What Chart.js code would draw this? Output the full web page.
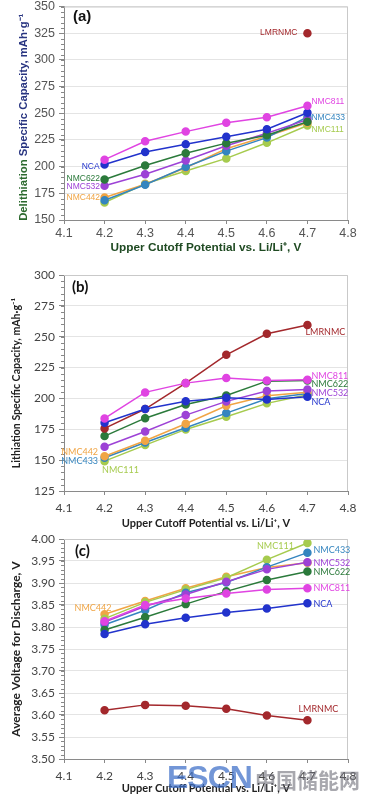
<!DOCTYPE html>
<html><head><meta charset="utf-8">
<script src="https://cdn.jsdelivr.net/npm/chart.js@4/dist/chart.umd.min.js"></script>
<style>
html,body{margin:0;padding:0;background:#fff;width:372px;height:800px;overflow:hidden;position:relative}
canvas{position:absolute;left:0}
#wm{position:absolute;left:167px;top:759px;white-space:nowrap;pointer-events:none;line-height:1}
#wm .e{font:bold 32px "Liberation Sans",Arial,sans-serif;color:rgba(60,110,200,0.72);letter-spacing:-1px}
#wm .c{font:bold 21px "Noto Sans CJK SC",sans-serif;color:rgba(110,110,120,0.6);margin-left:3px}
</style></head><body>
<canvas id="ca" width="372" height="265" style="top:-5px"></canvas>
<canvas id="cb" width="372" height="272" style="top:262px"></canvas>
<canvas id="cc" width="372" height="274" style="top:526px"></canvas>
<div id="wm"><span class="e">ESCN</span><span class="c">中国储能网</span></div>
<script>
// ---------- DATA ----------
const cutoffs = [4.2, 4.3, 4.4, 4.5, 4.6, 4.7];
const materials = ['NMC811', 'NCA', 'NMC622', 'NMC532', 'NMC442', 'NMC433', 'NMC111', 'LMRNMC'];

// (a) Delithiation specific capacity, mAh/g
const delithNMC811 = [206.5, 223.8, 232.8, 241.2, 246.2, 257.0];
const delithNCA    = [202.0, 213.7, 221.0, 228.0, 235.0, 250.5];
const delithNMC622 = [188.0, 201.0, 212.6, 222.0, 229.4, 242.0];
const delithNMC532 = [182.0, 192.8, 205.8, 219.5, 231.2, 244.0];
const delithNMC442 = [171.0, 183.5, 199.0, 216.7, 228.5, 241.0];
const delithNMC433 = [168.5, 183.0, 199.6, 214.5, 227.2, 246.5];
const delithNMC111 = [166.4, 184.0, 195.9, 207.7, 222.3, 238.5];
const delithLMRNMC = [null, null, null, null, null, 325.0];

// (b) Lithiation specific capacity, mAh/g
const lithNMC811 = [183.8, 204.9, 212.4, 216.5, 214.6, 215.1];
const lithNCA    = [180.3, 191.4, 197.8, 200.5, 199.2, 201.4];
const lithNMC622 = [169.5, 184.0, 195.1, 202.4, 214.0, 214.6];
const lithNMC532 = [160.8, 173.2, 186.5, 197.6, 206.0, 207.3];
const lithNMC442 = [153.2, 165.7, 179.5, 194.0, 202.2, 205.1];
const lithNMC433 = [152.0, 164.3, 176.2, 188.1, 199.7, 204.0];
const lithNMC111 = [149.2, 162.2, 174.9, 185.1, 196.0, 203.0];
const lithLMRNMC = [175.7, 191.4, 212.4, 235.3, 252.4, 259.5];

// (c) Average voltage for discharge, V
const voltNMC811 = [3.813, 3.850, 3.865, 3.876, 3.885, 3.888];
const voltNCA    = [3.784, 3.806, 3.821, 3.833, 3.842, 3.854];
const voltNMC622 = [3.793, 3.822, 3.852, 3.881, 3.907, 3.926];
const voltNMC532 = [3.811, 3.847, 3.874, 3.903, 3.931, 3.947];
const voltNMC442 = [3.829, 3.859, 3.888, 3.914, 3.935, 3.946];
const voltNMC433 = [3.805, 3.838, 3.878, 3.901, 3.936, 3.969];
const voltNMC111 = [3.819, 3.856, 3.885, 3.912, 3.953, 3.991];
const voltLMRNMC = [3.611, 3.623, 3.621, 3.614, 3.599, 3.588];

const xTickMin = 4.1, xTickMax = 4.8, xTickStep = 0.1;
const yTicksA = {min: 150, max: 350, step: 25};
const yTicksB = {min: 125, max: 300, step: 25};
const yTicksC = {min: 3.50, max: 4.00, step: 0.05};

// ---------- STYLE ----------
const colors = {
  NMC811: '#e044e2', NCA: '#2233cc', NMC622: '#2b7a3b', NMC532: '#9d42d6',
  NMC442: '#f0a545', NMC433: '#3485bf', NMC111: '#a6cb4e', LMRNMC: '#a3282c'
};

function toPoints(vals) { return cutoffs.map((c, i) => ({x: c, y: vals[i]})); }

const panelPlugin = {
  id: 'panel',
  afterDraw(chart, args, o) {
    const {ctx, chartArea: {left, right, top, bottom}, scales: {x, y}} = chart;
    ctx.save();
    ctx.lineWidth = 1;
    ctx.strokeStyle = o.frameColor;
    ctx.beginPath();
    ctx.moveTo(left, top + 0.5); ctx.lineTo(right - 0.5, top + 0.5); ctx.lineTo(right - 0.5, bottom);
    ctx.stroke();
    // minor ticks on y
    ctx.strokeStyle = o.tickColor;
    const n = Math.round((y.max - y.min) / o.minorStep);
    for (let i = 0; i <= n; i++) {
      const py = Math.round(y.getPixelForValue(y.min + i * o.minorStep)) + 0.5;
      ctx.beginPath(); ctx.moveTo(left - 3, py); ctx.lineTo(left, py); ctx.stroke();
    }
    // panel letter
    ctx.font = o.letterFont; ctx.fillStyle = '#111'; ctx.textAlign = 'left'; ctx.textBaseline = 'middle';
    ctx.fillText(o.letter, left + o.letterDx, top + o.letterDy);
    // series labels
    ctx.font = o.labelFont;
    o.labels.forEach(l => {
      const ds = chart.data.datasets.find(d => d.label === l.name);
      const p = ds.data[l.idx];
      ctx.fillStyle = ds.borderColor; ctx.textAlign = l.align;
      ctx.fillText(l.name, x.getPixelForValue(p.x) + l.dx, y.getPixelForValue(p.y) + l.dy);
    });
    // two-colour y title
    if (o.yTitleParts) {
      ctx.translate(o.yTitleX, (top + bottom) / 2 + (o.yTitleShift || 0));
      ctx.rotate(-Math.PI / 2);
      ctx.font = o.yTitleFont; ctx.textAlign = 'left';
      const total = o.yTitleParts.reduce((s, p) => s + ctx.measureText(p.text).width, 0);
      let cx = -total / 2;
      o.yTitleParts.forEach(p => { ctx.fillStyle = p.color; ctx.fillText(p.text, cx, 0); cx += ctx.measureText(p.text).width; });
    }
    ctx.restore();
  }
};

function makeChart(id, cfg) {
  const datasets = cfg.series.map(s => ({
    label: s.name, data: toPoints(s.values), borderColor: colors[s.name], backgroundColor: colors[s.name],
    pointBackgroundColor: colors[s.name], pointBorderColor: colors[s.name],
    borderWidth: 1.5, pointRadius: 3.5, pointHoverRadius: 3.5, tension: 0, spanGaps: false
  }));
  return new Chart(document.getElementById(id), {
    type: 'line',
    data: {datasets},
    options: {
      responsive: false, animation: false, devicePixelRatio: 1,
      layout: {padding: {top: cfg.padTop, right: 24, left: 0, bottom: 0}},
      plugins: {legend: {display: false}, tooltip: {enabled: false}, panel: cfg.panel},
      scales: {
        x: {
          type: 'linear', min: xTickMin, max: xTickMax,
          afterFit: s => { s.height = cfg.xHeight; },
          ticks: {stepSize: xTickStep, color: cfg.tickColor, font: cfg.tickFont, padding: cfg.xTickPad, maxRotation: 0,
                  callback: v => Number(v).toFixed(1)},
          grid: {drawOnChartArea: false, drawTicks: true, tickLength: 4, tickColor: '#888'},
          border: {color: '#8a8a8a', width: 1},
          title: {display: true, text: 'Upper Cutoff Potential vs. Li/Li⁺, V', color: cfg.xTitleColor, font: cfg.titleFont,
                  padding: {top: 0, bottom: cfg.xTitlePadB}}
        },
        y: {
          min: cfg.yTicks.min, max: cfg.yTicks.max,
          afterFit: s => { s.width = 64; },
          ticks: {stepSize: cfg.yTicks.step, color: cfg.tickColor, font: cfg.tickFont, padding: 4,
                  callback: v => Number(v).toFixed(cfg.yDec)},
          grid: {color: '#e4e4e4', tickColor: '#888', tickLength: 5},
          border: {color: '#8a8a8a', width: 1},
          title: cfg.yTitle
        }
      }
    },
    plugins: [panelPlugin]
  });
}

const fontA = 'Liberation Sans';
const fontBC = 'Lato';

makeChart('ca', {
  padTop: 10, xHeight: 40, xTickPad: 2, xTitlePadB: 4.8, yTicks: yTicksA, yDec: 0,
  tickColor: '#555', tickFont: {family: fontA, size: 12.5},
  titleFont: {family: fontA, size: 11.8, weight: 'bold'}, xTitleColor: '#1f4a22',
  yTitle: {display: false},
  series: [
    {name: 'NMC811', values: delithNMC811}, {name: 'NCA', values: delithNCA},
    {name: 'NMC622', values: delithNMC622}, {name: 'NMC532', values: delithNMC532},
    {name: 'NMC433', values: delithNMC433}, {name: 'NMC442', values: delithNMC442},
    {name: 'NMC111', values: delithNMC111}, {name: 'LMRNMC', values: delithLMRNMC}
  ],
  panel: {
    frameColor: '#c9c9c9', tickColor: '#888', minorStep: 5,
    letter: '(a)', letterFont: 'bold 15px "Liberation Sans"', letterDx: 9, letterDy: 10,
    labelFont: '8.5px "Liberation Sans"',
    yTitleParts: [{text: 'Delithiation ', color: '#2c6a2e'}, {text: 'Specific Capacity, mAh·g⁻¹', color: '#283480'}],
    yTitleFont: 'bold 11.3px "Liberation Sans"', yTitleX: 24, yTitleShift: 4,
    labels: [
      {name: 'LMRNMC', idx: 5, dx: -10, dy: -1, align: 'right'},
      {name: 'NMC811', idx: 5, dx: 4, dy: -4, align: 'left'},
      {name: 'NMC433', idx: 5, dx: 4, dy: 1, align: 'left'},
      {name: 'NMC111', idx: 5, dx: 4, dy: 4, align: 'left'},
      {name: 'NCA', idx: 0, dx: -5, dy: 2, align: 'right'},
      {name: 'NMC622', idx: 0, dx: -4.5, dy: -1, align: 'right'},
      {name: 'NMC532', idx: 0, dx: -4.5, dy: 0.5, align: 'right'},
      {name: 'NMC442', idx: 0, dx: -4.5, dy: 0, align: 'right'}
    ]
  }
});

makeChart('cb', {
  padTop: 13, xHeight: 43, xTickPad: 6, xTitlePadB: 4.4, yTicks: yTicksB, yDec: 0,
  tickColor: '#444', tickFont: {family: fontBC, size: 12},
  titleFont: {family: fontBC, size: 11, weight: 'bold'}, xTitleColor: '#222',
  yTitle: {display: true, text: 'Lithiation Specific Capacity, mAh·g⁻¹', color: '#222',
           font: {family: fontBC, size: 10.6, weight: 'bold'}, padding: {top: 10.6, bottom: 0}},
  series: [
    {name: 'NMC811', values: lithNMC811}, {name: 'NCA', values: lithNCA},
    {name: 'LMRNMC', values: lithLMRNMC}, {name: 'NMC622', values: lithNMC622},
    {name: 'NMC532', values: lithNMC532}, {name: 'NMC442', values: lithNMC442},
    {name: 'NMC433', values: lithNMC433}, {name: 'NMC111', values: lithNMC111}
  ],
  panel: {
    frameColor: '#c9c9c9', tickColor: '#888', minorStep: 5,
    letter: '(b)', letterFont: 'bold 15px Lato', letterDx: 8, letterDy: 12,
    labelFont: '9px Lato',
    labels: [
      {name: 'LMRNMC', idx: 5, dx: -2, dy: 7, align: 'left'},
      {name: 'NMC811', idx: 5, dx: 4, dy: -4, align: 'left'},
      {name: 'NMC622', idx: 5, dx: 4, dy: 3.3, align: 'left'},
      {name: 'NMC532', idx: 5, dx: 4, dy: 3.3, align: 'left'},
      {name: 'NCA', idx: 5, dx: 4, dy: 5, align: 'left'},
      {name: 'NMC442', idx: 0, dx: -6.5, dy: -4.5, align: 'right'},
      {name: 'NMC433', idx: 0, dx: -6.5, dy: 3.3, align: 'right'},
      {name: 'NMC111', idx: 0, dx: -2.5, dy: 8.6, align: 'left'}
    ]
  }
});

makeChart('cc', {
  padTop: 13, xHeight: 41, xTickPad: 6, xTitlePadB: 5.4, yTicks: yTicksC, yDec: 2,
  tickColor: '#444', tickFont: {family: fontBC, size: 12},
  titleFont: {family: fontBC, size: 11, weight: 'bold'}, xTitleColor: '#222',
  yTitle: {display: true, text: 'Average Voltage for Discharge, V', color: '#222',
           font: {family: fontBC, size: 12, weight: 'bold'}, padding: {top: 8.8, bottom: 0}},
  series: [
    {name: 'NMC811', values: voltNMC811}, {name: 'NCA', values: voltNCA},
    {name: 'NMC622', values: voltNMC622}, {name: 'NMC532', values: voltNMC532},
    {name: 'NMC433', values: voltNMC433}, {name: 'NMC111', values: voltNMC111},
    {name: 'NMC442', values: voltNMC442}, {name: 'LMRNMC', values: voltLMRNMC}
  ],
  panel: {
    frameColor: '#c9c9c9', tickColor: '#888', minorStep: 0.01,
    letter: '(c)', letterFont: 'bold 15px Lato', letterDx: 11, letterDy: 12,
    labelFont: '9px Lato',
    labels: [
      {name: 'NMC111', idx: 5, dx: -32, dy: 3, align: 'center'},
      {name: 'NMC433', idx: 5, dx: 6, dy: -2.5, align: 'left'},
      {name: 'NMC532', idx: 5, dx: 6, dy: 0.5, align: 'left'},
      {name: 'NMC622', idx: 5, dx: 6, dy: 0.5, align: 'left'},
      {name: 'NMC811', idx: 5, dx: 6, dy: 0, align: 'left'},
      {name: 'NCA', idx: 5, dx: 6, dy: 1, align: 'left'},
      {name: 'NMC442', idx: 0, dx: -11.5, dy: -6.5, align: 'center'},
      {name: 'LMRNMC', idx: 5, dx: 11, dy: -11, align: 'center'}
    ]
  }
});
</script>
</body></html>
